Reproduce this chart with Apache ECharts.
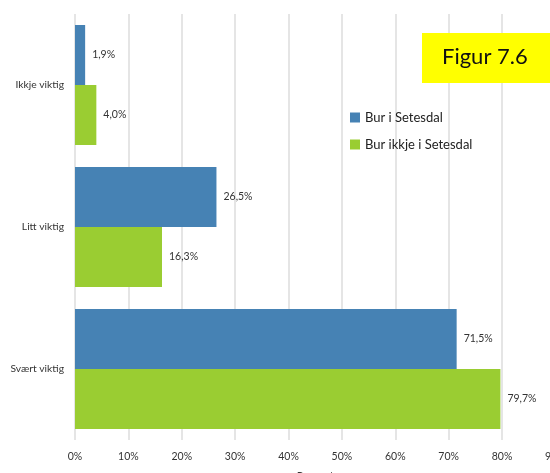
<!DOCTYPE html>
<html>
<head>
<meta charset="utf-8">
<script src="https://cdn.jsdelivr.net/npm/echarts@6/dist/echarts.min.js"></script>
<style>html,body{margin:0;padding:0;background:#fff}#c{width:550px;height:473px}</style>
</head>
<body>
<div id="c"></div>
<script>
const categories = ['Ikkje viktig', 'Litt viktig', 'Svært viktig'];
const seriesNames = ['Bur i Setesdal', 'Bur ikkje i Setesdal'];
const burISetesdal = [1.9, 26.5, 71.5];
const burIkkjeISetesdal = [4.0, 16.3, 79.7];
const figureTitle = 'Figur 7.6';
const axisTitle = 'Prosent';

const font = 'Lato, "Open Sans", sans-serif';
const chart = echarts.init(document.getElementById('c'), null, {renderer: 'canvas'});
const fmt = p => p.value.toFixed(1).replace('.', ',') + '%';
chart.setOption({
  animation: false,
  textStyle: {fontFamily: font},
  grid: {left: 75, width: 480.4, top: 14, height: 426, containLabel: false, outerBoundsMode: 'none'},
  legend: {
    orient: 'vertical', left: 345, top: 106, itemGap: 14,
    itemWidth: 10, itemHeight: 10, icon: 'rect', itemStyle: {borderWidth: 0},
    textStyle: {fontSize: 13, color: '#222', fontFamily: font},
    data: seriesNames
  },
  xAxis: {
    type: 'value', min: 0, max: 90, interval: 10,
    name: axisTitle, nameLocation: 'middle', nameGap: 31,
    nameTextStyle: {fontSize: 11, color: '#333'},
    axisLine: {show: false}, axisTick: {show: false},
    axisLabel: {formatter: v => v + '%', fontSize: 10.5, color: '#333', margin: 11},
    splitLine: {show: true, lineStyle: {color: '#dcdcdc', width: 1.5}}
  },
  yAxis: {
    type: 'category', data: categories, inverse: true,
    axisLine: {show: false}, axisTick: {show: false},
    axisLabel: {fontSize: 10.3, color: '#333', margin: 11}
  },
  series: [
    {name: seriesNames[0], type: 'bar', data: burISetesdal, barGap: '0%', barCategoryGap: '15.5%',
     itemStyle: {color: '#4682B4'},
     label: {show: true, position: 'right', distance: 7, formatter: fmt, fontSize: 10.5, color: '#333'}},
    {name: seriesNames[1], type: 'bar', data: burIkkjeISetesdal, barGap: '0%', barCategoryGap: '15.5%',
     itemStyle: {color: '#9ACD32'},
     label: {show: true, position: 'right', distance: 7, formatter: fmt, fontSize: 10.5, color: '#333'}}
  ],
  graphic: [
    {type: 'rect', left: 422, top: 33, shape: {width: 128, height: 50}, style: {fill: '#FFFF00'}, z: 100},
    {type: 'text', left: 442, top: 46, style: {text: figureTitle, fontSize: 22, fill: '#111', fontFamily: font}, z: 101}
  ]
});
</script>
</body>
</html>
